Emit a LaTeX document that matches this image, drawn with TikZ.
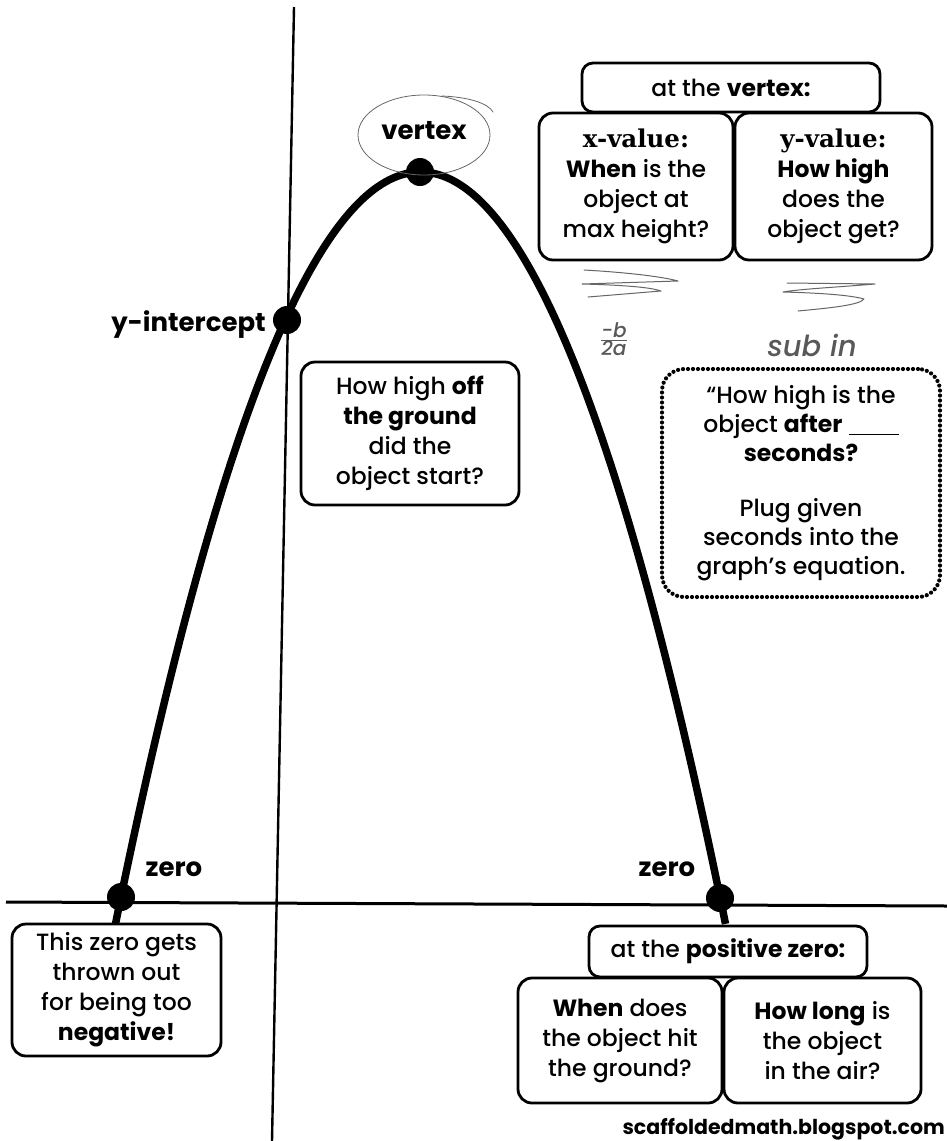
\documentclass[tikz,border=0pt]{standalone}
\usepackage{fontspec}
\setmainfont{Poppins}[UprightFont={* Medium}, BoldFont={* Bold}]
\newfontfamily\slab{DejaVu Serif}
\begin{document}
\begin{tikzpicture}[x=1pt,y=-1pt,
  box/.style={draw, fill=white, line width=2.8pt, rounded corners=14pt, align=center, inner sep=0pt,
    font=\fontsize{23.5}{30}\selectfont},
  dotbox/.style={draw, fill=white, line width=4.2pt, line cap=round, dash pattern=on 0pt off 5pt,
    rounded corners=22pt, align=center, inner sep=0pt, font=\fontsize{23.5}{29}\selectfont},
  lbl/.style={font=\bfseries\fontsize{26}{28}\selectfont, inner sep=0pt},
  pt/.style={circle, fill=black, minimum size=28pt, inner sep=0pt},
  axis/.style={line width=2.4pt},
  hand/.style={draw=black!60, line width=1pt, line cap=round, line join=round},
  handtxt/.style={text=black!65, font=\itshape\fontsize{29}{30}\selectfont, inner sep=0pt}
]
\useasboundingbox (0,0) rectangle (947,1141);
\fill[white] (0,0) rectangle (947,1141);

% axes
\coordinate (yt) at (294,7);
\coordinate (yb) at (272,1141);
\coordinate (xl) at (6,902);
\coordinate (xr) at (947,906);
\draw[axis] (yt) -- (yb);
\draw[axis, line width=3pt] (xl) -- (xr);

% parabola
\draw[line width=7.5pt] plot[domain=-305:305, samples=121, smooth]
  ({420.5+\x},{172+725*(\x/299.5)*(\x/299.5)});

% points
\node[pt] (V) at (420,172) {};
\node[pt] (Y) at (287,320) {};
\node[pt] (Z1) at (121,897) {};
\node[pt] (Z2) at (720,898) {};

% labels
\node[lbl] (vlab) at (424,131) {vertex};
\draw[hand, line width=0.8pt] (424,135) ellipse [x radius=66pt, y radius=40pt];
\draw[hand, line width=0.8pt] (442,96) .. controls (468,97) and (488,103) .. (493,112);
\node[lbl, anchor=east] (ylab) at (266,325) {y-intercept};
\node[lbl] (z1lab) at (174,869) {zero};
\node[lbl] (z2lab) at (667,869) {zero};

% vertex boxes
\node[box, minimum width=194pt, minimum height=147pt] (xval) at (636,186.5)
  {{\slab\bfseries\fontsize{24.5}{30}\selectfont x-value:}\\ \textbf{When} is the\\ object at\\ max height?};
\node[box, minimum width=197pt, minimum height=147pt] (yval) at (833.5,186.5)
  {{\slab\bfseries\fontsize{24.5}{30}\selectfont y-value:}\\ \textbf{How high}\\ does the\\ object get?};
\node[box, rounded corners=11pt, minimum width=298pt, minimum height=49pt] (vtop) at (731,87.5)
  {at the \textbf{vertex:}};

% handwriting
\draw[hand] (584,270) .. controls (620,272) and (660,276) .. (678,281)
  -- (582,284) .. controls (620,285) and (650,287) .. (661,291) -- (588,297);
\draw[hand] (787,283) -- (875,284) .. controls (840,287) and (800,289) .. (783,292)
  .. controls (820,293) and (850,295) .. (864,299) .. controls (860,305) and (830,308) .. (798,311);
\node[handtxt, font=\itshape\fontsize{20}{20}\selectfont] (frac) at (614,342)
  {\begin{tabular}{@{}c@{}}-b\\[-3pt]\hline 2a\end{tabular}};
\node[handtxt] (sub) at (812,345) {sub in};

% y-intercept question
\node[box, minimum width=218pt, minimum height=143pt] (yq) at (410,433.5)
  {How high \textbf{off}\\ \textbf{the ground}\\ did the\\ object start?};

% dotted box
\node[dotbox, minimum width=278pt, minimum height=228pt] (dq) at (801,483)
  {``How high is the\\ object \textbf{after} \underline{\hspace{50pt}}\\ \textbf{seconds?}\\[26pt] Plug given\\ seconds into the\\ graph's equation.};

% zero boxes
\node[box, minimum width=209pt, minimum height=132pt] (lz) at (116.5,990)
  {This zero gets\\ thrown out\\ for being too\\ \textbf{negative!}};
\node[box, minimum width=204pt, minimum height=125pt] (when) at (620,1040.5)
  {\textbf{When} does\\ the object hit\\ the ground?};
\node[box, minimum width=197pt, minimum height=125pt] (howl) at (822.5,1040.5)
  {\textbf{How long} is\\ the object\\ in the air?};
\node[box, rounded corners=11pt, minimum width=278pt, minimum height=51pt] (pz) at (728,951.5)
  {at the \textbf{positive zero:}};

\node[font=\bfseries\fontsize{20.5}{22}\selectfont, anchor=east, inner sep=0pt] (src) at (945,1129)
  {scaffoldedmath.blogspot.com};
\end{tikzpicture}
\end{document}
